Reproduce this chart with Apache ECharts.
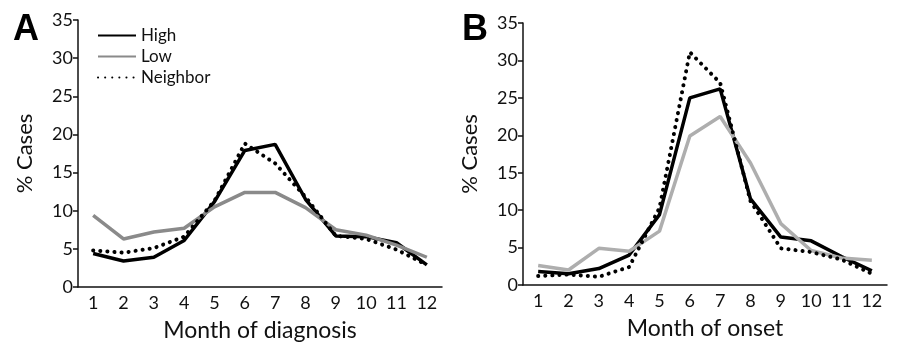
<!DOCTYPE html>
<html lang="en">
<head>
    <meta charset="UTF-8">
    <title>Cases by month</title>
    <script src="https://cdn.jsdelivr.net/npm/echarts@6.0.0/dist/echarts.min.js"></script>
</head>
<body style="margin:0">

<div id="main" style="width: 900px;height:350px;"></div>
<script type="text/javascript">

    let months = ['1', '2', '3', '4', '5', '6', '7', '8', '9', '10', '11', '12'];

    // panel A - month of diagnosis
    let highA = [4.4, 3.4, 3.9, 6.1, 11.2, 17.9, 18.7, 11.5, 6.7, 6.6, 5.8, 2.9];
    let lowA = [9.4, 6.3, 7.2, 7.7, 10.5, 12.4, 12.4, 10.4, 7.5, 6.8, 5.5, 3.9];
    let neighborA = [4.8, 4.5, 5.1, 6.6, 11.3, 18.8, 16.2, 11.8, 6.7, 6.3, 4.9, 2.9];

    // panel B - month of onset
    let highB = [1.8, 1.5, 2.2, 4.0, 9.4, 25.0, 26.2, 11.5, 6.4, 5.9, 3.8, 1.9];
    let lowB = [2.6, 2.0, 4.9, 4.5, 7.2, 19.9, 22.5, 16.3, 8.2, 4.6, 3.6, 3.3];
    let neighborB = [1.2, 1.4, 1.1, 2.4, 10.3, 31.1, 27.0, 11.2, 4.9, 4.4, 3.4, 1.5];

    let yTicks = [0, 5, 10, 15, 20, 25, 30, 35];

    let font = 'Lato';

    function xAx(idx, name) {
        return {
            type: 'category',
            gridIndex: idx,
            data: months,
            boundaryGap: true,
            name: name,
            nameLocation: 'middle',
            nameGap: 32,
            nameTextStyle: {color: '#111', fontSize: 23, fontFamily: font},
            axisLine: {lineStyle: {color: '#111', width: 1.5}},
            axisTick: {alignWithLabel: true, length: 5, lineStyle: {color: '#111', width: 1.5}},
            axisLabel: {color: '#111', fontSize: 18, fontFamily: font, margin: 7}
        }
    }

    function yAx(idx) {
        return {
            type: 'value',
            gridIndex: idx,
            min: yTicks[0],
            max: yTicks[yTicks.length - 1],
            interval: yTicks[1] - yTicks[0],
            name: '% Cases',
            nameLocation: 'middle',
            nameGap: 42,
            nameTextStyle: {color: '#111', fontSize: 22, fontFamily: font},
            splitLine: {show: false},
            axisLine: {show: true, lineStyle: {color: '#111', width: 1.5}},
            axisTick: {show: true, length: 5, lineStyle: {color: '#111', width: 1.5}},
            axisLabel: {color: '#111', fontSize: 18, fontFamily: font, margin: 5}
        }
    }

    function line(name, data, idx, color, dotted) {
        return {
            name: name,
            type: 'line',
            xAxisIndex: idx,
            yAxisIndex: idx,
            data: data,
            symbol: 'none',
            lineStyle: dotted
                ? {color: '#000', width: 4, type: [0.1, 7], cap: 'round'}
                : {color: color, width: 3.5},
            itemStyle: {color: dotted ? '#000' : color}
        }
    }

    option = {
        backgroundColor: '#fff',
        animation: false,
        title: [
            {text: 'A', left: 8, top: 7, textStyle: {fontSize: 36, fontWeight: 'bold', color: '#000', fontFamily: 'Liberation Sans'}},
            {text: 'B', left: 457, top: 7, textStyle: {fontSize: 36, fontWeight: 'bold', color: '#000', fontFamily: 'Liberation Sans'}}
        ],
        legend: {
            data: ['High', 'Low', 'Neighbor'],
            orient: 'vertical',
            left: 92,
            top: 22,
            itemWidth: 38,
            itemHeight: 14,
            itemGap: 4,
            itemStyle: {opacity: 0},
            textStyle: {color: '#111', fontSize: 17, fontFamily: font}
        },
        grid: [
            {left: 78, top: 20, width: 364, bottom: 63},
            {left: 523, top: 23, width: 364, bottom: 65}
        ],
        xAxis: [xAx(0, 'Month of diagnosis'), xAx(1, 'Month of onset')],
        yAxis: [yAx(0), yAx(1)],
        series: [
            line('High', highA, 0, '#000', false),
            line('Low', lowA, 0, '#8a8a8a', false),
            line('Neighbor', neighborA, 0, '#000', true),
            line('High B', highB, 1, '#000', false),
            line('Low B', lowB, 1, '#aeaeae', false),
            line('Neighbor B', neighborB, 1, '#000', true)
        ]
    };

    let myChart = echarts.init(document.getElementById('main'));
    myChart.setOption(option)
</script>
</body>
</html>
